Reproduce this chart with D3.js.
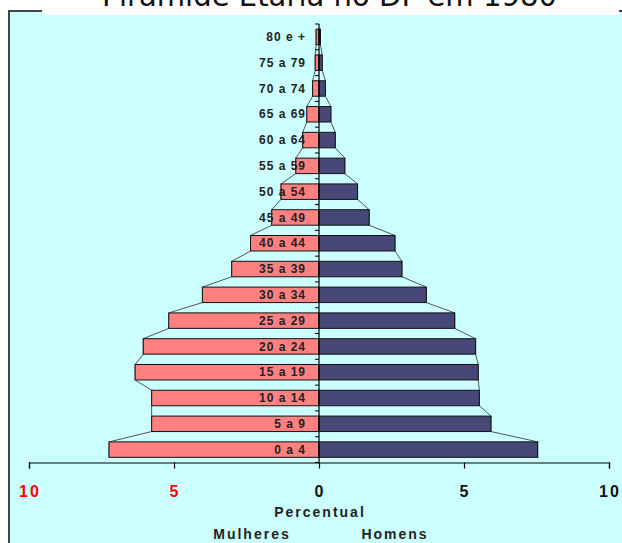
<!DOCTYPE html>
<html>
<head>
<meta charset="utf-8">
<script src="https://cdn.jsdelivr.net/npm/d3@7/dist/d3.min.js"></script>
<style>
  html, body { margin: 0; padding: 0; background: #ffffff; }
  svg { display: block; }
</style>
</head>
<body>
<svg id="chart" width="622" height="543"></svg>
<script>
// Population pyramid, Distrito Federal, 1980 (percent of population)
const ageGroups = ["0 a 4", "5 a 9", "10 a 14", "15 a 19", "20 a 24", "25 a 29", "30 a 34",
  "35 a 39", "40 a 44", "45 a 49", "50 a 54", "55 a 59", "60 a 64", "65 a 69",
  "70 a 74", "75 a 79", "80 e +"];
const women = [7.24, 5.77, 5.77, 6.34, 6.06, 5.18, 4.02, 3.01, 2.36, 1.63, 1.31, 0.80, 0.56, 0.42, 0.22, 0.13, 0.10];
const men   = [7.54, 5.93, 5.53, 5.49, 5.40, 4.68, 3.70, 2.86, 2.62, 1.73, 1.33, 0.89, 0.56, 0.41, 0.22, 0.11, 0.05];
const tickValues = [-10, -5, 0, 5, 10];
const titleText = "Pirâmide Etária no DF em 1980";

const svg = d3.select("#chart");
const W = 622, H = 543;

// frame background
svg.append("rect").attr("x", 8).attr("y", 11).attr("width", W - 8).attr("height", H - 11)
  .attr("fill", "#ccffff");
svg.append("path")
  .attr("d", `M9,${H} V11 H${W}`)
  .attr("fill", "none").attr("stroke", "#444").attr("stroke-width", 2);

// title box
svg.append("rect").attr("x", 42).attr("y", 0).attr("width", 577).attr("height", 15)
  .attr("fill", "#ffffff");
svg.append("text")
  .attr("x", 102).attr("y", 6)
  .attr("textLength", 455).attr("lengthAdjust", "spacingAndGlyphs")
  .attr("font-family", "'DejaVu Sans', sans-serif").attr("font-size", 30)
  .attr("fill", "#111")
  .text(titleText);

// scales
const x = d3.scaleLinear().domain([-10, 10]).range([29, 609]);
const y = d3.scaleBand().domain(ageGroups).range([462.5, 24]).paddingInner(0.4).paddingOuter(0.2);

const rows = ageGroups.map((g, i) => ({ g, w: women[i], m: men[i] }));

// outline polygons linking the outer ends of the bars
function outline(side) {
  const pts = [];
  rows.forEach(r => {
    const xv = side < 0 ? x(-r.w) : x(r.m);
    pts.push([xv, y(r.g) + y.bandwidth()]);
    pts.push([xv, y(r.g)]);
  });
  return d3.line()(pts);
}
svg.append("path").attr("d", outline(-1)).attr("fill", "none").attr("stroke", "#555").attr("stroke-width", 1);
svg.append("path").attr("d", outline(1)).attr("fill", "none").attr("stroke", "#555").attr("stroke-width", 1);

// women bars
svg.append("g").selectAll("rect").data(rows).join("rect")
  .attr("x", d => x(-d.w)).attr("y", d => y(d.g))
  .attr("width", d => x(0) - x(-d.w)).attr("height", y.bandwidth())
  .attr("fill", "#ff8080").attr("stroke", "#111").attr("stroke-width", 1);

// men bars
svg.append("g").selectAll("rect").data(rows).join("rect")
  .attr("x", x(0)).attr("y", d => y(d.g))
  .attr("width", d => x(d.m) - x(0)).attr("height", y.bandwidth())
  .attr("fill", "#484878").attr("stroke", "#111").attr("stroke-width", 1);

// vertical category axis with small ticks at group boundaries
const bounds = ageGroups.map(g => y(g) + y.bandwidth() + y.step() * 0.2);
bounds.push(y(ageGroups[ageGroups.length - 1]) - y.step() * 0.2);
svg.append("line").attr("x1", x(0)).attr("x2", x(0)).attr("y1", 24).attr("y2", 462.5)
  .attr("stroke", "#000").attr("stroke-width", 1.2);
svg.append("g").selectAll("line").data(bounds).join("line")
  .attr("x1", x(0) - 4).attr("x2", x(0)).attr("y1", d => d).attr("y2", d => d)
  .attr("stroke", "#000").attr("stroke-width", 1);

// category labels
svg.append("g").selectAll("text").data(rows).join("text")
  .attr("x", 306).attr("y", d => y(d.g) + y.bandwidth() / 2 + 4.2)
  .attr("text-anchor", "end")
  .attr("font-family", "'Liberation Sans', Arial, sans-serif").attr("font-weight", "bold")
  .attr("font-size", 12).attr("letter-spacing", 1)
  .attr("fill", "#222")
  .text(d => d.g);

// horizontal value axis
const xAxis = d3.axisBottom(x).tickValues(tickValues).tickSize(6).tickFormat("");
const gx = svg.append("g").attr("transform", "translate(0,462.5)").call(xAxis);
gx.select(".domain").attr("stroke", "#000").attr("stroke-width", 1.2);
gx.selectAll(".tick line").attr("stroke", "#000").attr("stroke-width", 1.2);

svg.append("g").selectAll("text").data(tickValues).join("text")
  .attr("x", d => x(d) + 1).attr("y", 497)
  .attr("text-anchor", "middle")
  .attr("font-family", "'Liberation Sans', Arial, sans-serif").attr("font-weight", "bold")
  .attr("font-size", 16).attr("letter-spacing", 2)
  .attr("fill", d => d < 0 ? "#ff0000" : "#111")
  .text(d => Math.abs(d));

const axisText = (txt, cx, cy) => svg.append("text")
  .attr("x", cx).attr("y", cy).attr("text-anchor", "middle")
  .attr("font-family", "'Liberation Sans', Arial, sans-serif").attr("font-weight", "bold")
  .attr("font-size", 14).attr("letter-spacing", 2).attr("fill", "#222")
  .text(txt);
axisText("Percentual", 320, 517);
axisText("Mulheres", 252, 539);
axisText("Homens", 395, 539);
</script>
</body>
</html>
